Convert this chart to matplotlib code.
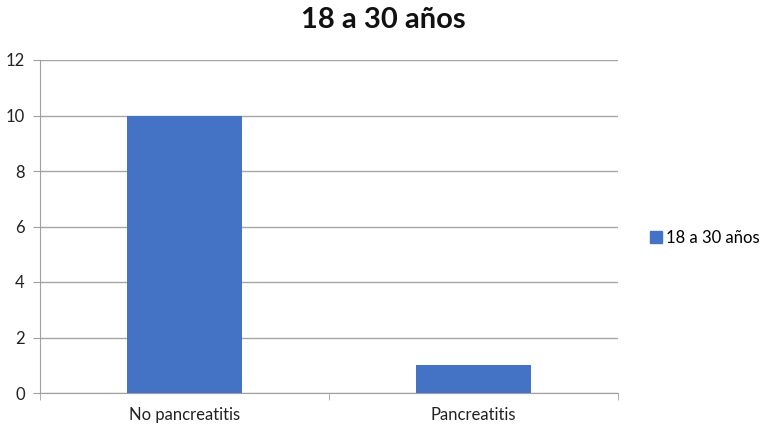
import matplotlib
matplotlib.use("Agg")
import matplotlib.pyplot as plt
from matplotlib.lines import Line2D

categories = ["No pancreatitis", "Pancreatitis"]
values = [10, 1]
series_name = "18 a 30 años"
yticks = [0, 2, 4, 6, 8, 10, 12]

plt.rcParams['font.family'] = ['Lato', 'DejaVu Sans']

fig = plt.figure(figsize=(7.61, 4.32), dpi=100)
ax = fig.add_axes([40/761, 1-393/432, (618-40)/761, (393-60)/432])

x = list(range(len(categories)))
ax.bar(x, values, width=0.4, color="#4472C4", zorder=3, label=series_name)

ax.set_xlim(-0.5, len(categories)-0.5)
ax.set_ylim(0, 12)
ax.set_yticks(yticks)
ax.set_yticklabels([str(t) for t in yticks], fontsize=12, color="#222222")
ax.set_xticks(x)
ax.set_xticklabels(categories, fontsize=12, color="#222222")
ax.tick_params(axis='x', length=0, pad=10)
ax.tick_params(axis='y', length=5, color="#A0A0A0", pad=6)
ax.set_xticks([-0.5, 0.5, 1.5], minor=True)
ax.tick_params(axis='x', which='minor', length=5, color="#A0A0A0")

ax.grid(axis='y', color="#A6A6A6", linewidth=1, zorder=0)
for s in ['top', 'right']:
    ax.spines[s].set_visible(False)
for s in ['left', 'bottom']:
    ax.spines[s].set_color("#A0A0A0")

fig.text(383/761, 1-20/432, series_name, fontsize=21, fontweight='bold', ha='center', va='center', color="#111111")

handle = Line2D([], [], marker='s', linestyle='none', markersize=8, color="#4472C4")
fig.legend([handle], [series_name], loc='center left', bbox_to_anchor=(633/761, 1-238/432),
           frameon=False, fontsize=12, handletextpad=0.1, handlelength=1.0)

fig.savefig("out.png", dpi=100)
